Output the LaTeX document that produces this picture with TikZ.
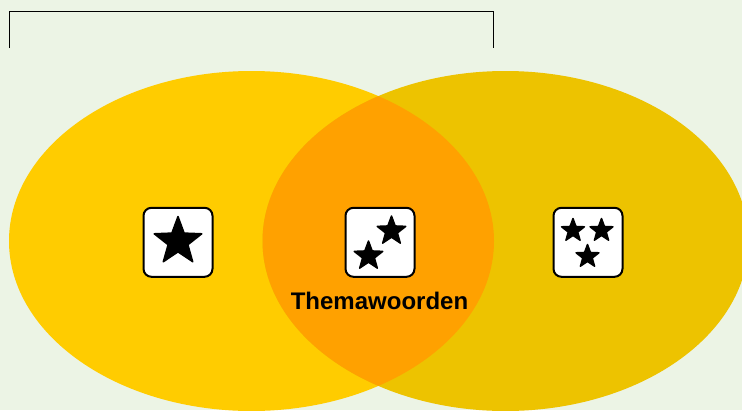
\documentclass[tikz,border=0pt]{standalone}
\usepackage{fontspec}
\setmainfont{Liberation Sans}
\usepackage{tikz}
\usetikzlibrary{positioning,shapes.geometric}
\definecolor{bgGreen}{HTML}{ECF4E5}
\definecolor{leftYellow}{HTML}{FFCC00}
\definecolor{rightYellow}{HTML}{EDC300}
\definecolor{mixOrange}{HTML}{FFA100}

\begin{document}
\begin{tikzpicture}[
    x=1pt, y=-1pt,
    font=\bfseries,
    card/.style={
		rectangle,
		rounded corners=8pt,
		draw=black,
		line width=2pt,
		minimum width=69pt,
		minimum height=69pt,
		fill=white
	},
	bigstar/.style={
		star, star points=5, star point ratio=2.4,
		fill=black, draw=black, line width=1.5pt, line join=round,
		inner sep=0pt, minimum size=50pt
	},
	midstar/.style={
		bigstar, minimum size=30pt
	},
	smallstar/.style={
		bigstar, minimum size=24pt
	},
	caption/.style={
		font=\bfseries\fontsize{24}{27}\selectfont,
		inner sep=0pt, anchor=base
	}
  ]
    % background and bounding box
  \fill [bgGreen] (0,0) rectangle (742,410);
  \useasboundingbox (0,0) rectangle (742,410);

    % bracket on top
  \coordinate (brA) at (9.5,48);
  \coordinate (brB) at (493.5,48);
  \draw [line width=1pt] (brA) |- (251.5,11.5) -| (brB);

    % the two sets
  \fill [leftYellow] (251.5,241) ellipse [x radius=242.5pt, y radius=170pt];
  \fill [rightYellow] (505.5,241) ellipse [x radius=243pt, y radius=170pt];
  \begin{scope}
    \clip (251.5,241) ellipse [x radius=242.5pt, y radius=170pt];
    \fill [mixOrange] (505.5,241) ellipse [x radius=243pt, y radius=170pt];
  \end{scope}

    % the cards
  \node [card] (card1) at (178,242.3) {};
  \node [card] (card2) at (380,242.3) {};
  \node [card] (card3) at (588,242.3) {};

  \node [bigstar] (star1) at (178,241.5) {};

  \node [midstar] (star2a) at (391.5,231) {};
  \node [midstar] (star2b) at (368.5,256) {};

  \node [smallstar] (star3a) at (573,230.5) {};
  \node [smallstar] (star3b) at (601.5,230.5) {};
  \node [smallstar] (star3c) at (587.5,256.5) {};

  \node [caption] (thema) at (379.5,309.5) {Themawoorden};

\end{tikzpicture}
\end{document}
